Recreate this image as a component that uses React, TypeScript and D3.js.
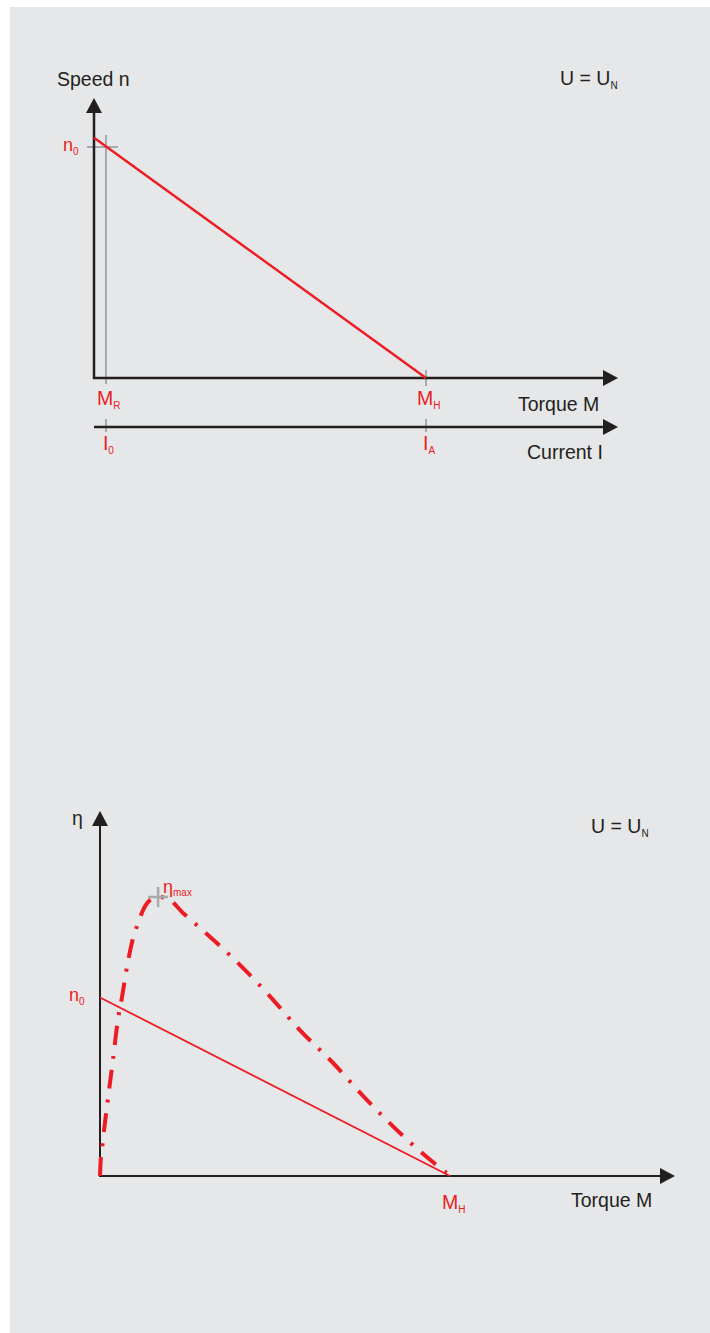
import React from 'react';
import * as d3 from 'd3';

// Top chart: speed vs torque (normalised: M_H = 1, n0 = 1)
const speedTorque = [0, 1];
const speedValues = [1.04, 0];
const torqueMarks = [
  { key: 'MR', value: 0.036, label: 'M', sub: 'R', curLabel: 'I', curSub: '0' },
  { key: 'MH', value: 1, label: 'M', sub: 'H', curLabel: 'I', curSub: 'A' },
];
const n0Top = 1;

// Bottom chart: efficiency vs torque (normalised: M_H = 1, eta_max = 1)
const etaTorque = [0, 0.001, 0.008, 0.023, 0.037, 0.051, 0.063, 0.077, 0.091, 0.109, 0.123, 0.143, 0.166, 0.191, 0.237, 0.286, 0.38, 0.477, 0.571, 0.666, 0.763, 0.857, 0.951, 0.99];
const etaValues = [0, 0.032, 0.122, 0.28, 0.416, 0.559, 0.642, 0.749, 0.835, 0.907, 0.953, 0.989, 1.0, 0.996, 0.943, 0.889, 0.781, 0.656, 0.523, 0.405, 0.272, 0.154, 0.05, 0.011];
const etaMaxAt = 0.166;
const speedTorqueBottom = [0, 1];
const speedValuesBottom = [0.64, 0];

const RED = '#ed1c24';
const INK = '#231f20';
const GREY = '#a7a9ac';
const FONT = '"Liberation Sans", Arial, Helvetica, sans-serif';

const Label = ({ x, y, main, sub, color = INK, size = 19.5, subSize = 10, dy = 4 }) => (
  <text x={x} y={y} fill={color} fontSize={size} fontFamily={FONT}>
    {main}
    {sub && (
      <tspan fontSize={subSize} dy={dy}>
        {sub}
      </tspan>
    )}
  </text>
);

const App = () => {
  // top chart scales
  const xTop = d3.scaleLinear().domain([0, 1]).range([94, 426]);
  const yTop = d3.scaleLinear().domain([0, 1]).range([378, 147]);
  const yCur = 427;
  const xTopEnd = 618;
  const yTopEnd = 98;

  // bottom chart scales
  const xBot = d3.scaleLinear().domain([0, 1]).range([100, 450]);
  const yBot = d3.scaleLinear().domain([0, 1]).range([1176, 897]);
  const xBotEnd = 675;
  const yBotEnd = 811;

  const topLine = d3.line<number>()
    .x((d, i) => xTop(speedTorque[i]))
    .y((d) => yTop(d));

  const botSpeedLine = d3.line<number>()
    .x((d, i) => xBot(speedTorqueBottom[i]))
    .y((d) => yBot(d));

  const etaLine = d3.line<number>()
    .x((d, i) => xBot(etaTorque[i]))
    .y((d) => yBot(d))
    .curve(d3.curveMonotoneX);

  const x0 = xTop(0);
  const y0 = yTop(0);
  const bx0 = xBot(0);
  const by0 = yBot(0);
  const mr = xTop(torqueMarks[0].value);
  const ny = yTop(n0Top);
  const ex = xBot(etaMaxAt);
  const ey = yBot(1);

  return (
    <svg width={710} height={1333} style={{ position: 'absolute', left: 0, top: 0 }}>
      <rect x={0} y={0} width={710} height={1333} fill="#fff" />
      <rect x={10} y={7} width={700} height={1326} fill="#e6e7e8" />

      {/* ---------- top chart ---------- */}
      <g>
        {/* gray guides */}
        <line x1={mr} x2={mr} y1={ny - 12} y2={y0 + 6} stroke={GREY} strokeWidth={2} />
        <line x1={x0 - 7} x2={mr + 12} y1={ny} y2={ny} stroke={GREY} strokeWidth={2} />
        {torqueMarks.map((m) => (
          <g key={m.key}>
            {m.key === 'MH' && (
              <line x1={xTop(m.value)} x2={xTop(m.value)} y1={y0 - 8} y2={y0 + 8} stroke={GREY} strokeWidth={2} />
            )}
            <line x1={xTop(m.value)} x2={xTop(m.value)} y1={yCur - 8} y2={yCur + 5} stroke={GREY} strokeWidth={2} />
          </g>
        ))}

        {/* axes */}
        <path d={`M${x0},${yTopEnd + 14}V${y0}H${xTopEnd - 14}`} fill="none" stroke={INK} strokeWidth={2.5} />
        <path d={`M${x0},${yTopEnd}L${x0 - 8},${yTopEnd + 15}L${x0 + 8},${yTopEnd + 15}Z`} fill={INK} />
        <path d={`M${xTopEnd},${y0}L${xTopEnd - 15},${y0 - 8}L${xTopEnd - 15},${y0 + 8}Z`} fill={INK} />
        <line x1={x0} x2={xTopEnd - 14} y1={yCur} y2={yCur} stroke={INK} strokeWidth={2.5} />
        <path d={`M${xTopEnd},${yCur}L${xTopEnd - 15},${yCur - 8}L${xTopEnd - 15},${yCur + 8}Z`} fill={INK} />

        {/* speed line */}
        <path d={topLine(speedValues) || ''} fill="none" stroke={RED} strokeWidth={2.5} />

        {/* labels */}
        <Label x={57} y={86} main="Speed n" />
        <Label x={560} y={85} main="U = U" sub="N" />
        <Label x={518} y={411} main="Torque M" />
        <Label x={527} y={459} main="Current I" />
        <Label x={63} y={151} main="n" sub="0" color={RED} size={18} />
        {torqueMarks.map((m) => (
          <g key={m.key + 'l'}>
            <Label x={xTop(m.value) - 9} y={405} main={m.label} sub={m.sub} color={RED} />
            <Label x={xTop(m.value) - 3} y={450} main={m.curLabel} sub={m.curSub} color={RED} />
          </g>
        ))}
      </g>

      {/* ---------- bottom chart ---------- */}
      <g>
        <path d={`M${bx0},${yBotEnd + 14}V${by0}H${xBotEnd - 14}`} fill="none" stroke={INK} strokeWidth={2} />
        <path d={`M${bx0},${yBotEnd}L${bx0 - 8},${yBotEnd + 15}L${bx0 + 8},${yBotEnd + 15}Z`} fill={INK} />
        <path d={`M${xBotEnd},${by0}L${xBotEnd - 15},${by0 - 8}L${xBotEnd - 15},${by0 + 8}Z`} fill={INK} />

        <path d={botSpeedLine(speedValuesBottom) || ''} fill="none" stroke={RED} strokeWidth={1.8} />
        <path
          d={etaLine(etaValues) || ''}
          fill="none"
          stroke={RED}
          strokeWidth={4}
          strokeDasharray="19 11 3 11"
        />

        {/* eta max crosshair */}
        <line x1={ex - 10} x2={ex + 10} y1={ey} y2={ey} stroke={GREY} strokeWidth={2.5} />
        <line x1={ex} x2={ex} y1={ey - 10} y2={ey + 10} stroke={GREY} strokeWidth={2.5} />

        <Label x={72} y={825} main="η" />
        <Label x={591} y={833} main="U = U" sub="N" />
        <Label x={571} y={1207} main="Torque M" />
        <Label x={xBot(1) - 8} y={1209} main="M" sub="H" color={RED} />
        <Label x={69} y={1001} main="n" sub="0" color={RED} size={18} />
        <Label x={163} y={893} main="η" sub="max" color={RED} size={18} subSize={10} dy={3} />
      </g>
    </svg>
  );
};

export default App;
